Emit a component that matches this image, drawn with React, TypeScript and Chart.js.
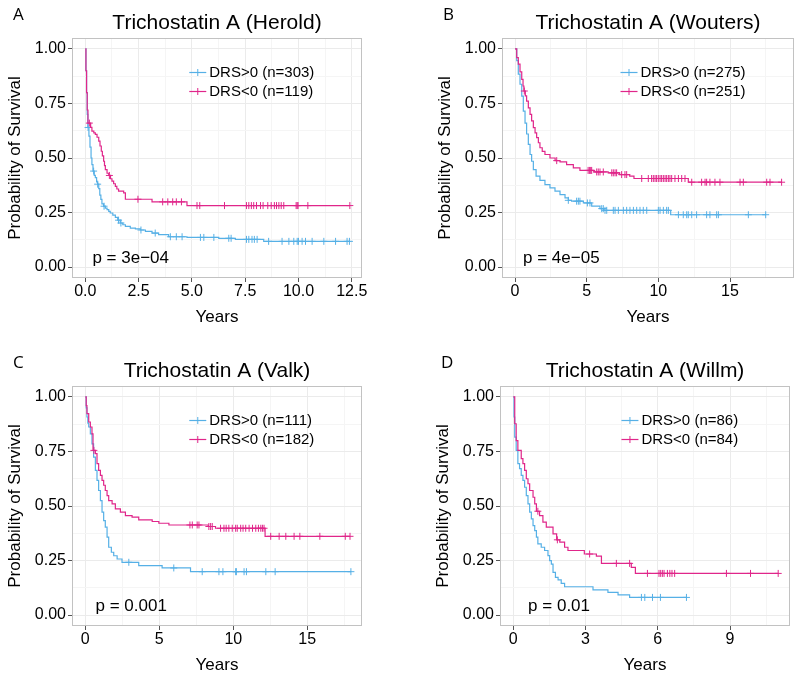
import React, { useEffect, useRef } from "react";
import { Chart, registerables } from "chart.js";

Chart.register(...registerables);

// ---------------- data ----------------
// Panel A: Herold
const HEROLD_POS_T = [0, 0.03, 0.06, 0.09, 0.12, 0.17, 0.22, 0.27, 0.31, 0.36, 0.42, 0.47, 0.53, 0.58, 0.63, 0.68, 0.73, 0.78, 0.86, 0.94, 1.02, 1.10, 1.17, 1.29, 1.41, 1.52, 1.64, 1.76, 1.88, 2.11, 2.35, 2.58, 2.82, 3.13, 3.44, 3.91, 4.77, 6.26, 7.04, 8.37, 12.39];
const HEROLD_POS_S = [1, 0.90, 0.80, 0.70, 0.64, 0.60, 0.55, 0.50, 0.47, 0.44, 0.42, 0.41, 0.39, 0.38, 0.36, 0.33, 0.31, 0.29, 0.279, 0.27, 0.263, 0.255, 0.248, 0.238, 0.228, 0.215, 0.202, 0.194, 0.187, 0.179, 0.175, 0.17, 0.164, 0.156, 0.149, 0.139, 0.136, 0.132, 0.127, 0.118, 0.118];
const HEROLD_POS_CENS = [0.13, 0.39, 0.58, 0.88, 1.56, 1.67, 2.61, 3.28, 3.99, 4.27, 4.54, 5.4, 5.56, 6.03, 6.73, 6.84, 7.56, 7.67, 7.82, 7.93, 8.06, 8.6, 9.23, 9.55, 9.78, 9.94, 10.0, 10.17, 10.33, 10.64, 11.19, 11.74, 12.28, 12.39];
const HEROLD_NEG_T = [0, 0.03, 0.06, 0.09, 0.125, 0.25, 0.31, 0.40, 0.47, 0.55, 0.63, 0.69, 0.75, 0.80, 0.86, 0.90, 0.94, 1.02, 1.10, 1.18, 1.25, 1.33, 1.41, 1.48, 1.56, 1.80, 1.88, 3.13, 4.77, 12.41];
const HEROLD_NEG_S = [1, 0.90, 0.80, 0.72, 0.66, 0.64, 0.623, 0.615, 0.608, 0.595, 0.577, 0.555, 0.531, 0.51, 0.485, 0.465, 0.447, 0.43, 0.42, 0.405, 0.394, 0.382, 0.37, 0.358, 0.348, 0.34, 0.311, 0.299, 0.282, 0.282];
const HEROLD_NEG_CENS = [0.19, 1.13, 2.47, 3.63, 3.87, 4.1, 4.27, 4.51, 5.24, 5.37, 6.53, 7.56, 7.67, 7.79, 7.9, 8.03, 8.22, 8.34, 8.56, 8.72, 8.87, 8.97, 9.08, 9.19, 9.31, 9.89, 9.94, 9.98, 10.44, 12.41];

// Panel B: Wouters
const WOUTERS_POS_T = [0, 0.12, 0.23, 0.35, 0.47, 0.58, 0.70, 0.81, 0.93, 1.05, 1.16, 1.28, 1.47, 1.74, 2.09, 2.44, 2.79, 3.14, 3.49, 3.72, 3.95, 4.77, 5.35, 5.93, 6.2, 10.86, 17.49];
const WOUTERS_POS_S = [1, 0.946, 0.884, 0.838, 0.784, 0.715, 0.66, 0.61, 0.562, 0.516, 0.485, 0.447, 0.417, 0.397, 0.378, 0.363, 0.348, 0.332, 0.317, 0.306, 0.302, 0.294, 0.279, 0.268, 0.26, 0.24, 0.24];
const WOUTERS_POS_CENS = [3.72, 4.3, 4.42, 4.53, 5.05, 5.23, 6.05, 6.16, 6.28, 6.4, 6.86, 6.98, 7.21, 7.56, 7.79, 8.02, 8.26, 8.49, 8.72, 8.95, 9.19, 10.0, 10.12, 10.35, 10.58, 10.7, 11.4, 11.74, 11.98, 12.09, 12.33, 12.67, 13.37, 13.6, 14.07, 14.19, 16.28, 17.49];
const WOUTERS_NEG_T = [0, 0.12, 0.23, 0.35, 0.47, 0.56, 0.62, 0.72, 0.81, 0.93, 1.05, 1.16, 1.28, 1.40, 1.51, 1.63, 1.74, 1.9, 2.09, 2.44, 2.8, 3.14, 3.6, 4.07, 4.53, 5.5, 6.5, 7.3, 8.0, 8.3, 12.09, 18.6];
const WOUTERS_NEG_S = [1, 0.96, 0.93, 0.895, 0.86, 0.83, 0.807, 0.785, 0.761, 0.73, 0.70, 0.67, 0.639, 0.615, 0.593, 0.57, 0.547, 0.53, 0.516, 0.50, 0.488, 0.482, 0.47, 0.455, 0.443, 0.436, 0.432, 0.424, 0.417, 0.406, 0.389, 0.389];
const WOUTERS_NEG_CENS = [0.65, 2.91, 5.1, 5.19, 5.28, 5.35, 5.7, 5.81, 5.93, 6.16, 6.75, 6.86, 6.98, 7.09, 7.44, 7.67, 7.79, 8.84, 9.3, 9.53, 9.65, 9.77, 9.88, 10.0, 10.12, 10.23, 10.35, 10.47, 10.58, 10.7, 10.81, 10.93, 11.16, 11.4, 11.63, 11.86, 12.33, 13.02, 13.26, 13.37, 13.6, 13.95, 14.3, 15.7, 15.93, 17.56, 17.79, 18.6];

// Panel C: Valk
const VALK_POS_T = [0, 0.06, 0.11, 0.17, 0.23, 0.34, 0.45, 0.56, 0.68, 0.79, 0.9, 1.02, 1.13, 1.24, 1.35, 1.47, 1.58, 1.76, 1.92, 2.15, 2.48, 3.61, 5.19, 7.11, 17.95];
const VALK_POS_S = [1, 0.95, 0.908, 0.88, 0.862, 0.831, 0.785, 0.724, 0.663, 0.617, 0.571, 0.525, 0.472, 0.433, 0.403, 0.357, 0.311, 0.288, 0.272, 0.257, 0.242, 0.227, 0.216, 0.199, 0.199];
const VALK_POS_CENS = [2.94, 5.98, 7.9, 9.03, 9.3, 10.16, 10.21, 10.73, 10.89, 12.2, 12.83, 17.95];
const VALK_NEG_T = [0, 0.06, 0.11, 0.23, 0.34, 0.45, 0.52, 0.68, 0.79, 0.9, 1.02, 1.13, 1.24, 1.35, 1.47, 1.58, 1.81, 2.03, 2.37, 2.71, 3.16, 3.61, 4.52, 4.97, 5.65, 8.31, 8.8, 12.15, 17.89];
const VALK_NEG_S = [1, 0.96, 0.923, 0.885, 0.862, 0.831, 0.755, 0.74, 0.694, 0.663, 0.64, 0.617, 0.595, 0.571, 0.548, 0.525, 0.51, 0.487, 0.472, 0.456, 0.449, 0.436, 0.429, 0.421, 0.413, 0.406, 0.398, 0.361, 0.361];
const VALK_NEG_CENS = [0.58, 7.07, 7.23, 7.56, 7.68, 8.35, 8.47, 8.58, 9.14, 9.37, 9.52, 9.7, 9.93, 10.16, 10.27, 10.5, 10.66, 10.84, 11.07, 11.3, 11.52, 11.7, 11.86, 11.97, 12.08, 12.53, 13.1, 13.55, 14.11, 14.5, 15.85, 17.57, 17.89];

// Panel D: Willm
const WILLM_POS_T = [0, 0.03, 0.06, 0.12, 0.19, 0.26, 0.33, 0.40, 0.47, 0.54, 0.61, 0.68, 0.75, 0.82, 0.89, 0.96, 1.02, 1.16, 1.30, 1.44, 1.51, 1.58, 1.65, 1.75, 1.86, 1.99, 2.13, 3.31, 3.93, 4.35, 4.83, 7.19];
const WILLM_POS_S = [1, 0.908, 0.816, 0.755, 0.694, 0.671, 0.64, 0.617, 0.586, 0.548, 0.51, 0.472, 0.441, 0.41, 0.387, 0.357, 0.326, 0.311, 0.296, 0.273, 0.25, 0.234, 0.196, 0.173, 0.161, 0.145, 0.13, 0.116, 0.104, 0.093, 0.081, 0.081];
const WILLM_POS_CENS = [5.32, 5.46, 5.78, 6.11, 7.19];
const WILLM_NEG_T = [0, 0.06, 0.12, 0.19, 0.33, 0.40, 0.47, 0.54, 0.61, 0.68, 0.82, 0.89, 0.96, 1.09, 1.23, 1.37, 1.65, 1.80, 1.93, 2.13, 2.27, 2.95, 3.45, 3.66, 4.9, 5.07, 11.0];
const WILLM_NEG_S = [1, 0.877, 0.80, 0.755, 0.717, 0.694, 0.663, 0.625, 0.602, 0.571, 0.54, 0.51, 0.476, 0.456, 0.426, 0.403, 0.372, 0.345, 0.334, 0.311, 0.296, 0.28, 0.27, 0.237, 0.219, 0.191, 0.191];
const WILLM_NEG_CENS = [1.02, 1.83, 3.17, 4.28, 4.83, 5.57, 6.05, 6.12, 6.19, 6.26, 6.4, 6.5, 6.59, 6.7, 8.85, 9.85, 11.0];

// tick labels
const X_TICKS_HEROLD = [0, 2.5, 5, 7.5, 10, 12.5];
const X_LABELS_HEROLD = ["0.0", "2.5", "5.0", "7.5", "10.0", "12.5"];
const X_TICKS_FIVE = [0, 5, 10, 15];
const X_LABELS_FIVE = ["0", "5", "10", "15"];
const X_TICKS_WILLM = [0, 3, 6, 9];
const X_LABELS_WILLM = ["0", "3", "6", "9"];
const Y_TICKS = [0, 0.25, 0.5, 0.75, 1];
const Y_LABELS = ["0.00", "0.25", "0.50", "0.75", "1.00"];

const TITLES = ["Trichostatin A (Herold)", "Trichostatin A (Wouters)", "Trichostatin A (Valk)", "Trichostatin A (Willm)"];
const LETTERS = ["A", "B", "C", "D"];
const POS_LABELS = ["DRS>0 (n=303)", "DRS>0 (n=275)", "DRS>0 (n=111)", "DRS>0 (n=86)"];
const NEG_LABELS = ["DRS<0 (n=119)", "DRS<0 (n=251)", "DRS<0 (n=182)", "DRS<0 (n=84)"];
const P_TEXTS = ["p = 3e\u221204", "p = 4e\u221205", "p = 0.001", "p = 0.01"];
const P_X = [2.13, 3.23, 3.1, 1.9];

// ---------------- style ----------------
const FONT = "'Liberation Sans', Arial, Helvetica, sans-serif";
const BLUE = "#56B0E6";
const PINK = "#E0268A";
const GRID_MAJOR = "#EBEBEB";
const GRID_MINOR = "#F5F5F5";
const BORDER = "#C2C2C2";
const TICK = "#555555";

type Panel = {
  idx: number;
  x: number; y: number; w: number; h: number;
  ca: { l: number; t: number; r: number; b: number };
  xMin: number; xMax: number;
  xTicks: number[]; xLabels: string[];
  posT: number[]; posS: number[]; posC: number[];
  negT: number[]; negS: number[]; negC: number[];
};

const PANELS: Panel[] = [
  { idx: 0, x: 0, y: 0, w: 400, h: 340, ca: { l: 72, t: 38, r: 362, b: 278 }, xMin: -0.624, xMax: 12.98,
    xTicks: X_TICKS_HEROLD, xLabels: X_LABELS_HEROLD,
    posT: HEROLD_POS_T, posS: HEROLD_POS_S, posC: HEROLD_POS_CENS, negT: HEROLD_NEG_T, negS: HEROLD_NEG_S, negC: HEROLD_NEG_CENS },
  { idx: 1, x: 400, y: 0, w: 400, h: 340, ca: { l: 102, t: 38, r: 394, b: 278 }, xMin: -0.907, xMax: 19.465,
    xTicks: X_TICKS_FIVE, xLabels: X_LABELS_FIVE,
    posT: WOUTERS_POS_T, posS: WOUTERS_POS_S, posC: WOUTERS_POS_CENS, negT: WOUTERS_NEG_T, negS: WOUTERS_NEG_S, negC: WOUTERS_NEG_CENS },
  { idx: 2, x: 0, y: 340, w: 400, h: 339, ca: { l: 72, t: 46, r: 362, b: 286 }, xMin: -0.9, xMax: 18.7,
    xTicks: X_TICKS_FIVE, xLabels: X_LABELS_FIVE,
    posT: VALK_POS_T, posS: VALK_POS_S, posC: VALK_POS_CENS, negT: VALK_NEG_T, negS: VALK_NEG_S, negC: VALK_NEG_CENS },
  { idx: 3, x: 400, y: 340, w: 400, h: 339, ca: { l: 100, t: 46, r: 390, b: 286 }, xMin: -0.552, xMax: 11.49,
    xTicks: X_TICKS_WILLM, xLabels: X_LABELS_WILLM,
    posT: WILLM_POS_T, posS: WILLM_POS_S, posC: WILLM_POS_CENS, negT: WILLM_NEG_T, negS: WILLM_NEG_S, negC: WILLM_NEG_CENS },
];

function stepPoints(ts: number[], ss: number[]) {
  return ts.map((t, i) => ({ x: t, y: ss[i] }));
}
function censorPoints(cs: number[], ts: number[], ss: number[]) {
  return cs.map((c) => {
    let k = 0;
    for (let i = 0; i < ts.length; i++) if (ts[i] <= c + 1e-9) k = i;
    return { x: c, y: ss[k] };
  });
}
function minorOf(major: number[], lo: number, hi: number) {
  const step = major[1] - major[0];
  const out: number[] = [];
  const first = major[0] - step / 2;
  for (let v = first; v <= hi + 1e-9; v += step) if (v >= lo - 1e-9) out.push(+v.toFixed(6));
  return out;
}
const near = (a: number, b: number) => Math.abs(a - b) < 1e-6;

function makeDecor(p: Panel) {
  return {
    id: "decor" + p.idx,
    afterDraw(chart: any) {
      const { ctx, chartArea: a } = chart;
      const xs = chart.scales.x;
      const ys = chart.scales.y;
      ctx.save();
      // panel border
      ctx.strokeStyle = BORDER;
      ctx.lineWidth = 1;
      ctx.strokeRect(a.left + 0.5, a.top + 0.5, a.right - a.left - 1, a.bottom - a.top - 1);
      ctx.fillStyle = "#000";
      // panel letter
      ctx.font = `17px 'Open Sans', ${FONT}`;
      ctx.textAlign = "left";
      ctx.textBaseline = "alphabetic";
      ctx.fillText(LETTERS[p.idx], a.left - 59, a.top - 18);
      // title
      ctx.font = `21px ${FONT}`;
      ctx.textAlign = "center";
      ctx.fillText(TITLES[p.idx], (a.left + a.right) / 2, a.top - 9);
      // x title
      ctx.font = `17px ${FONT}`;
      ctx.textBaseline = "middle";
      ctx.fillText("Years", (a.left + a.right) / 2, a.bottom + 39);
      // y title
      ctx.save();
      ctx.translate(a.left - 57, (a.top + a.bottom) / 2);
      ctx.rotate(-Math.PI / 2);
      ctx.fillText("Probability of Survival", 0, 0);
      ctx.restore();
      // p value
      ctx.font = `17px ${FONT}`;
      ctx.textAlign = "center";
      ctx.fillText(P_TEXTS[p.idx], xs.getPixelForValue(P_X[p.idx]), ys.getPixelForValue(0.04));
      // legend
      ctx.font = `15px ${FONT}`;
      const entries = [
        { c: BLUE, t: POS_LABELS[p.idx] },
        { c: PINK, t: NEG_LABELS[p.idx] },
      ];
      const tw = Math.max(...entries.map((e) => ctx.measureText(e.t).width));
      const total = 17 + 3 + tw;
      const x0 = a.left + 0.62 * (a.right - a.left) - total / 2;
      entries.forEach((e, i) => {
        const yy = Math.round(a.top + 34 + i * 19.4) + 0.5;
        ctx.strokeStyle = e.c;
        ctx.lineWidth = 1.2;
        ctx.beginPath();
        ctx.moveTo(x0, yy);
        ctx.lineTo(x0 + 17, yy);
        ctx.stroke();
        ctx.lineWidth = 1;
        ctx.beginPath();
        ctx.moveTo(x0 + 8.5, yy - 3.5);
        ctx.lineTo(x0 + 8.5, yy + 3.5);
        ctx.stroke();
        ctx.fillStyle = "#000";
        ctx.textAlign = "left";
        ctx.textBaseline = "middle";
        ctx.fillText(e.t, x0 + 20, yy);
      });
      ctx.restore();
    },
  };
}

function KMPanel({ p }: { p: Panel }) {
  const ref = useRef<HTMLCanvasElement | null>(null);
  useEffect(() => {
    if (!ref.current) return;
    const xMinor = minorOf(p.xTicks, p.xMin, p.xMax);
    const yMinor = minorOf(Y_TICKS, -0.05, 1.05);
    const xAll = [...p.xTicks, ...xMinor].sort((a, b) => a - b);
    const yAll = [...Y_TICKS, ...yMinor].sort((a, b) => a - b);
    const isMajorX = (v: number) => p.xTicks.some((m) => near(m, v));
    const isMajorY = (v: number) => Y_TICKS.some((m) => near(m, v));
    const tickFont = { family: FONT, size: 16 };

    const chart = new Chart(ref.current, {
      type: "scatter",
      data: {
        datasets: [
          {
            label: NEG_LABELS[p.idx] + " censor",
            data: censorPoints(p.negC, p.negT, p.negS),
            showLine: false,
            pointStyle: "cross",
            pointRadius: 3.5,
            borderColor: PINK,
            backgroundColor: PINK,
            borderWidth: 1,
          },
          {
            label: NEG_LABELS[p.idx],
            data: stepPoints(p.negT, p.negS),
            showLine: true,
            stepped: true,
            borderColor: PINK,
            borderWidth: 1.2,
            pointRadius: 0,
            fill: false,
          },
          {
            label: POS_LABELS[p.idx] + " censor",
            data: censorPoints(p.posC, p.posT, p.posS),
            showLine: false,
            pointStyle: "cross",
            pointRadius: 3.5,
            borderColor: BLUE,
            backgroundColor: BLUE,
            borderWidth: 1,
          },
          {
            label: POS_LABELS[p.idx],
            data: stepPoints(p.posT, p.posS),
            showLine: true,
            stepped: true,
            borderColor: BLUE,
            borderWidth: 1.2,
            pointRadius: 0,
            fill: false,
          },
        ],
      } as any,
      options: {
        animation: false,
        responsive: false,
        maintainAspectRatio: false,
        events: [],
        layout: { padding: { left: 0, top: p.ca.t, right: p.w - p.ca.r, bottom: 0 } },
        plugins: {
          legend: { display: false },
          tooltip: { enabled: false },
          title: { display: false },
        },
        scales: {
          x: {
            type: "linear",
            position: "bottom",
            min: p.xMin,
            max: p.xMax,
            afterBuildTicks: (s: any) => {
              s.ticks = xAll.map((v) => ({ value: v }));
            },
            afterFit: (s: any) => {
              s.height = p.h - p.ca.b;
            },
            ticks: {
              autoSkip: false,
              maxRotation: 0,
              minRotation: 0,
              padding: 0,
              color: "#000",
              font: tickFont,
              callback: (v: any) => {
                const i = p.xTicks.findIndex((m) => near(m, Number(v)));
                return i >= 0 ? p.xLabels[i] : "";
              },
            },
            grid: {
              color: (c: any) => (c.tick && isMajorX(c.tick.value) ? GRID_MAJOR : GRID_MINOR),
              tickColor: (c: any) => (c.tick && isMajorX(c.tick.value) ? TICK : "rgba(0,0,0,0)"),
              tickLength: 4,
              lineWidth: 1,
            },
            border: { display: false },
          },
          y: {
            type: "linear",
            position: "left",
            min: -0.05,
            max: 1.05,
            afterBuildTicks: (s: any) => {
              s.ticks = yAll.map((v) => ({ value: v }));
            },
            afterFit: (s: any) => {
              s.width = p.ca.l;
            },
            ticks: {
              autoSkip: false,
              padding: 2,
              color: "#000",
              font: tickFont,
              callback: (v: any) => {
                const i = Y_TICKS.findIndex((m) => near(m, Number(v)));
                return i >= 0 ? Y_LABELS[i] : "";
              },
            },
            grid: {
              color: (c: any) => (c.tick && isMajorY(c.tick.value) ? GRID_MAJOR : GRID_MINOR),
              tickColor: (c: any) => (c.tick && isMajorY(c.tick.value) ? TICK : "rgba(0,0,0,0)"),
              tickLength: 4,
              lineWidth: 1,
            },
            border: { display: false },
          },
        },
      } as any,
      plugins: [makeDecor(p)],
    });
    return () => chart.destroy();
  }, [p]);
  return (
    <canvas
      ref={ref}
      width={p.w}
      height={p.h}
      style={{ position: "absolute", left: p.x, top: p.y, width: p.w, height: p.h }}
    />
  );
}

export default function App() {
  return (
    <div style={{ position: "absolute", left: 0, top: 0, width: 800, height: 679, background: "#fff" }}>
      {PANELS.map((p) => (
        <KMPanel key={p.idx} p={p} />
      ))}
    </div>
  );
}
